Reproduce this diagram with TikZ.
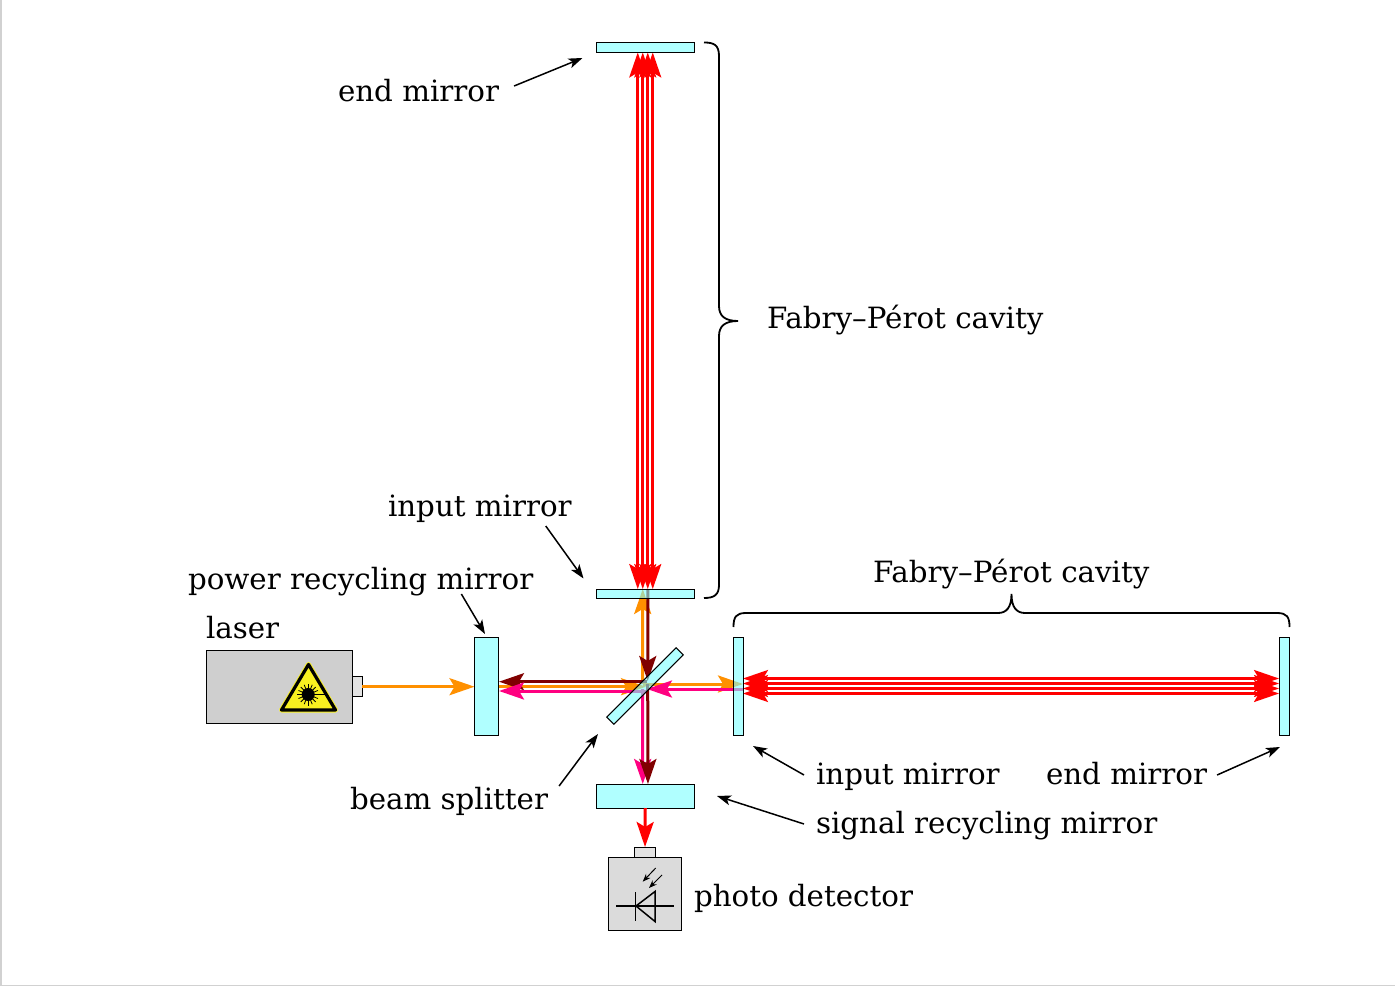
\documentclass[tikz,border=0pt]{standalone}
\usepackage{fontspec}
\setmainfont{DejaVu Serif}
\usetikzlibrary{arrows.meta, positioning}

\definecolor{mirrorfill}{HTML}{7BFFFF}
\definecolor{beamorange}{HTML}{FF9000}
\definecolor{beamdark}{HTML}{800000}
\definecolor{beampink}{HTML}{FF0080}
\definecolor{signyellow}{HTML}{F8F020}

\begin{document}
\begin{tikzpicture}[
    x = 1pt, y = -1pt,
    node distance = 0pt,
    mirror/.style = {rectangle, draw, line width=1pt, fill=mirrorfill, fill opacity=0.6, inner sep=0pt, outer sep=0pt},
    housing/.style = {rectangle, draw, line width=1pt, inner sep=0pt, outer sep=0pt},
    nozzle/.style = {rectangle, draw, line width=1pt, fill=black!11, inner sep=0pt, outer sep=0pt},
    txt/.style = {font=\fontsize{29.3}{33}\selectfont, inner sep=0pt, outer sep=0pt},
    beam/.style = {line width=3pt, >={Stealth[length=25pt, width=17pt, inset=5pt]}},
    pointer/.style = {->, line width=1.5pt, >={Stealth[length=14pt, width=10pt, inset=3.5pt]}},
    curly/.style = {line width=1.8pt},
    symb/.style = {line width=1.5pt}
]
\useasboundingbox (0,0) rectangle (1395,987);
\draw[black!18, line width=1.2pt] (1,0) -- (1,985.5) -- (1395,985.5);

% Define housings
\node[housing, fill=black!19, minimum width=145.5pt, minimum height=72.5pt] (laser) at (279.25,686.75) {};
\node[nozzle, minimum width=10pt, minimum height=20pt, right=of laser] (lasernozzle) {};
\node[housing, fill=black!14, minimum width=73.5pt, minimum height=73pt] (detector) at (645,893.5) {};
\node[nozzle, minimum width=20.5pt, minimum height=10pt, above=of detector] (detnozzle) {};

% Mirror positions, needed by the beams
\path (645.25,47.5) coordinate (endtopc) (645.25,593.5) coordinate (intopc)
      (486,686) coordinate (prmc) (645,686) coordinate (bsc)
      (738,686) coordinate (inrightc) (1284.5,686) coordinate (endrightc)
      (645.25,796) coordinate (srmc);

% Draw beams
\foreach \off in {-7.5,-2.5,2.5,7.5} {
    \draw[beam, red, line width=2.6pt, <->] ([shift={(\off,5)}]endtopc) -- ([shift={(\off,-4.5)}]intopc);
    \draw[beam, red, line width=2.6pt, <->] ([shift={(5,\off)}]inrightc) -- ([shift={(-5.5,\off)}]endrightc);
}
\draw[beam, beamorange, ->] (lasernozzle.east |- 0,686.7) -- (474.5,686.7);
\draw[beam, beamorange, ->] ([shift={(-147,0.7)}]bsc) -- ([shift={(1,0.7)}]bsc);
\draw[beam, beamorange, ->] ([shift={(-2.5,-2)}]bsc) -- ([shift={(-2.5,-4.5)}]intopc);
\draw[beam, beamorange, ->] ([shift={(-2,-2)}]bsc) -- ([shift={(5,-2)}]inrightc);
\draw[beam, beamdark, ->] ([shift={(2.7,-4.5)}]intopc) -- ([shift={(2.7,-5)}]bsc);
\draw[beam, beamdark, ->] ([shift={(2,-4.3)}]bsc) -- (499,681.7);
\draw[beam, beampink, ->] ([shift={(5,3)}]inrightc) -- ([shift={(2,3)}]bsc);
\draw[beam, beampink, ->] ([shift={(2,5)}]bsc) -- (499,691);
\draw[beam, beampink, ->] ([shift={(-2.5,3)}]bsc) -- ([shift={(-2.5,-12)}]srmc);
\draw[beam, beamdark, ->] ([shift={(2.7,-2)}]bsc) -- ([shift={(2.7,-12)}]srmc);

% Define mirrors
\node[mirror, minimum width=97.5pt, minimum height=10pt] (endtop) at (endtopc) {};
\node[mirror, minimum width=97.5pt, minimum height=9pt] (intop) at (intopc) {};
\node[mirror, minimum width=24pt, minimum height=98pt] (prm) at (prmc) {};
\node[mirror, minimum width=98pt, minimum height=10pt, rotate=45] (bs) at (bsc) {};
\node[mirror, minimum width=10pt, minimum height=98pt] (inright) at (inrightc) {};
\node[mirror, minimum width=10.5pt, minimum height=98pt] (endright) at (endrightc) {};
\node[mirror, minimum width=97.5pt, minimum height=24pt] (srm) at (srmc) {};

\draw[beam, red, ->] (srm.south) -- (detnozzle.north);

% Define labels
\node[txt, anchor=base west] (lblendtop) at (338,102) {end mirror};
\node[txt, anchor=base west] (lblcavtop) at (767,328) {Fabry–Pérot cavity};
\node[txt, anchor=base west] (lblintop) at (388,516) {input mirror};
\node[txt, anchor=base west] (lblprm) at (188,589) {power recycling mirror};
\node[txt, anchor=base west] (lbllaser) at (206,638) {laser};
\node[txt, anchor=base west] (lblcavright) at (873,582) {Fabry–Pérot cavity};
\node[txt, anchor=base west] (lblinright) at (816,784) {input mirror};
\node[txt, anchor=base west] (lblendright) at (1046,784) {end mirror};
\node[txt, anchor=base west] (lblsrm) at (816,833) {signal recycling mirror};
\node[txt, anchor=base west] (lblbs) at (350,809) {beam splitter};
\node[txt, anchor=base west] (lbldet) at (694,906) {photo detector};

% Draw arrows
\draw[pointer] ([shift={(15,-16)}]lblendtop.base east) -- ([shift={(-14,10.5)}]endtop.west);
\draw[pointer] ([shift={(-26,10)}]lblintop.base east) -- ([shift={(-13,-15)}]intop.west);
\draw[pointer] ([shift={(-72,5)}]lblprm.base east) -- ([shift={(-1,-3)}]prm.north);
\draw[pointer] ([shift={(11,-23)}]lblbs.base east) -- ([shift={(-47,48)}]bs.center);
\draw[pointer] ([shift={(-12,-9)}]lblinright.base west) -- ([shift={(15,11)}]inright.south);
\draw[pointer] ([shift={(10,-9)}]lblendright.base east) -- ([shift={(-4.5,12)}]endright.south);
\draw[pointer] ([shift={(-12,-9)}]lblsrm.base west) -- ([shift={(23,0)}]srm.east);

% Braces
\draw[curly] (704,42.5) .. controls (714,42.5) and (719,45) .. (719,56) -- (719,306)
    .. controls (719,316) and (725,321) .. (738,321) .. controls (725,321) and (719,326) .. (719,336)
    -- (719,585) .. controls (719,595) and (714,598) .. (704,598);
\draw[curly] (733.5,627) .. controls (733.5,617) and (736,613) .. (746,613) -- (998,613)
    .. controls (1006,613) and (1011.5,608) .. (1011.5,594) .. controls (1011.5,608) and (1017,613) .. (1025,613)
    -- (1277,613) .. controls (1287,613) and (1289.5,617) .. (1289.5,627);

% Laser warning sign
\draw[signyellow, line width=5pt, line join=round, fill=signyellow] (308.5,664.5) -- (335.5,710) -- (281.5,710) -- cycle;
\draw[black, line width=3.2pt, line join=round] (308.5,664.5) -- (335.5,710) -- (281.5,710) -- cycle;
\fill (308.2,694.5) circle (6.5pt);
\foreach \ang in {0,22.5,...,337.5}
    \draw[line width=0.8pt] (308.2,694.5) -- ++(\ang:10.5);
\draw[line width=1.5pt] (297,694.5) -- (326,694.5);
\draw[line width=1.2pt] (308.2,684) -- (308.2,706);

% Photo diode
\draw[symb] (616,906) -- (674,906);
\draw[symb] (635.7,892) -- (635.7,921);
\draw[symb, line join=miter] (636,906) -- (655,891.5) -- (655,921.5) -- cycle;
\draw[->, line width=1pt, >={Stealth[length=8pt, width=6pt]}] (655.7,868) -- (642.7,881.7);
\draw[->, line width=1pt, >={Stealth[length=8pt, width=6pt]}] (662,875) -- (649,888);

\end{tikzpicture}
\end{document}
